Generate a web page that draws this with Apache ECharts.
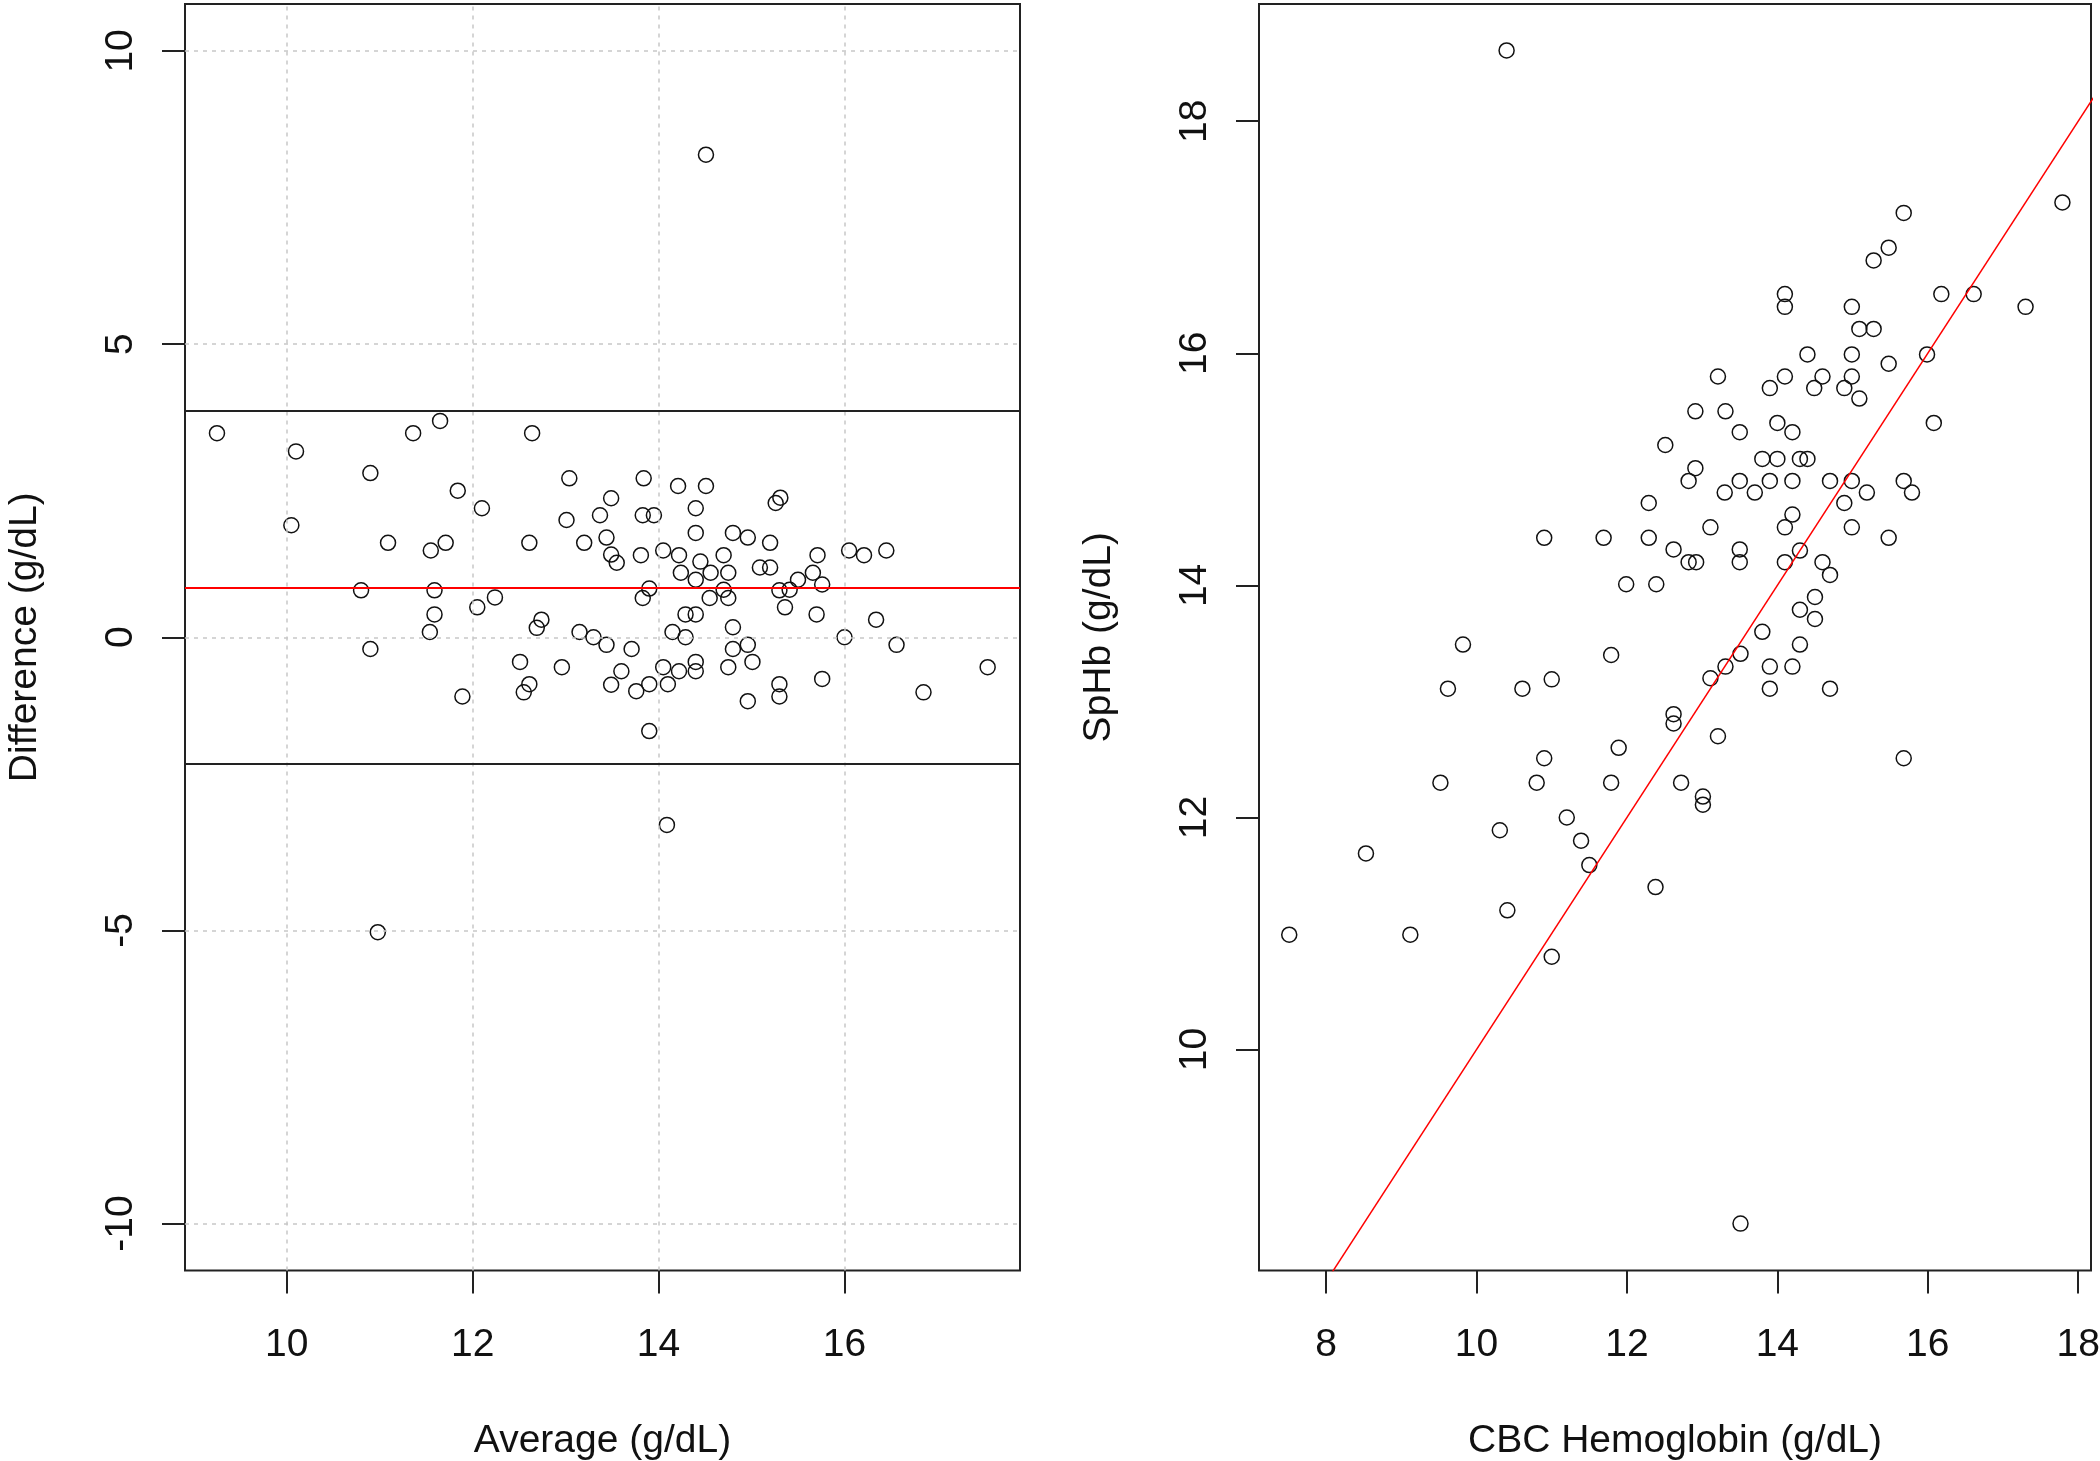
<!DOCTYPE html>
<html>
<head>
<meta charset="utf-8">
<script src="https://cdn.jsdelivr.net/npm/echarts@6/dist/echarts.min.js"></script>
<style>
html,body{margin:0;padding:0;background:#ffffff;}
#chart{width:2100px;height:1461px;}
</style>
</head>
<body>
<div id="chart"></div>
<script>
// ---------- Left panel: Bland-Altman (Average vs Difference) ----------
const baPoints = [
  [9.25,3.48],[10.10,3.17],[10.90,2.80],[11.36,3.48],[11.65,3.69],[12.64,3.48],[13.04,2.71],[11.84,2.50],
  [12.10,2.20],[10.05,1.91],[11.09,1.61],[11.55,1.48],[11.71,1.61],[12.61,1.61],[13.01,2.00],[13.20,1.61],
  [13.37,2.08],[10.80,0.80],[11.59,0.80],[11.59,0.39],[11.54,0.09],[12.05,0.51],[12.24,0.68],[12.74,0.30],
  [12.69,0.16],[13.15,0.09],[13.30,0.00],[10.90,-0.20],[12.51,-0.42],[12.96,-0.51],[12.61,-0.80],[12.55,-0.94],
  [11.89,-1.01],
  [13.49,2.37],[13.44,1.70],[13.49,1.41],[13.55,1.27],[13.84,2.71],[13.83,2.08],[13.95,2.08],[14.21,2.58],
  [14.51,2.58],[14.40,2.20],[14.40,1.78],[13.81,1.40],[14.05,1.48],[14.22,1.40],[14.24,1.10],[14.45,1.29],
  [14.40,0.98],[14.56,1.10],[14.70,1.40],[14.75,1.10],[14.80,1.78],[14.96,1.70],[15.20,1.61],[15.26,2.29],
  [15.31,2.38],
  [15.09,1.19],[15.20,1.19],[15.71,1.40],[15.66,1.10],[15.50,0.98],[15.76,0.90],[15.30,0.80],[15.41,0.81],
  [15.36,0.51],[15.70,0.39],[16.05,1.48],[16.21,1.40],[16.45,1.48],[16.34,0.30],[16.00,0.00],[16.56,-0.13],
  [17.54,-0.51],[16.85,-0.94],[13.90,0.83],[13.83,0.67],[14.55,0.67],[14.75,0.67],[14.70,0.81],[14.29,0.39],
  [14.40,0.39],
  [14.80,0.17],[14.15,0.09],[14.29,0.00],[13.44,-0.13],[13.71,-0.20],[14.80,-0.20],[14.96,-0.13],[15.01,-0.42],
  [14.75,-0.51],[14.40,-0.42],[14.40,-0.58],[14.05,-0.51],[14.22,-0.58],[13.60,-0.58],[13.49,-0.81],[13.90,-0.80],
  [13.76,-0.92],[14.10,-0.80],[15.30,-0.80],[15.30,-1.01],[14.96,-1.09],[15.76,-0.71],[13.90,-1.60],
  [14.51,8.23],[14.09,-3.20],[10.98,-5.03]
];
const meanDifference = [0.85];
const agreementLimits = [3.86, -2.15];
const baXTicks = [10, 12, 14, 16];
const baYTicks = [-10, -5, 0, 5, 10];
const baXRange = [8.906, 17.888];
const baYRange = [-10.8, 10.8];

// ---------- Right panel: CBC Hemoglobin vs SpHb ----------
const corrPoints = [
  [17.79,17.30],[15.68,17.21],[15.48,16.91],[15.28,16.80],[14.10,16.51],[14.10,16.40],[14.99,16.40],[16.18,16.51],
  [16.61,16.51],[17.30,16.40],[15.09,16.21],[15.28,16.21],[14.40,15.99],[14.99,15.99],[15.48,15.91],[15.99,15.99],
  [13.21,15.80],[14.10,15.80],[14.60,15.80],[14.49,15.70],[14.99,15.80],[13.90,15.70],[14.89,15.70],[15.09,15.61],
  [13.31,15.50],[13.50,15.32],[14.00,15.40],[14.20,15.32],[16.08,15.40],[13.80,15.09],[14.00,15.09],[14.30,15.09],
  [14.40,15.09],[13.50,14.90],[13.30,14.80],[13.70,14.80],[13.90,14.90],[14.20,14.90],[14.70,14.90],[14.99,14.90],
  [15.19,14.80],[15.68,14.90],[15.79,14.80],[14.89,14.71],[14.20,14.61],[14.10,14.50],[13.11,14.50],[14.99,14.50],
  [15.48,14.41],
  [12.91,15.50],[12.51,15.21],[12.91,15.01],[12.82,14.90],[12.29,14.71],[10.90,14.41],[11.69,14.41],[12.29,14.41],
  [12.62,14.31],[12.82,14.20],[12.92,14.20],[11.99,14.01],[12.39,14.01],
  [9.82,13.49],[11.79,13.40],[9.62,13.11],[10.61,13.11],[11.00,13.19],[12.62,12.89],[12.62,12.81],[11.89,12.60],
  [10.90,12.51],[9.52,12.30],[10.80,12.30],[11.79,12.30],[12.72,12.30],[13.01,12.18],[13.01,12.11],[11.20,12.00],
  [10.31,11.89],[11.39,11.80],[11.50,11.59],[8.53,11.69],[12.38,11.40],[10.41,11.20],[7.51,10.99],[9.12,10.99],
  [11.00,10.80],
  [13.50,14.31],[13.50,14.20],[14.30,14.30],[14.10,14.20],[14.60,14.20],[14.70,14.09],[14.50,13.90],[14.30,13.79],
  [14.50,13.71],[13.80,13.60],[14.30,13.49],[13.51,13.41],[13.31,13.30],[13.90,13.30],[14.20,13.30],[13.11,13.20],
  [13.90,13.11],[14.70,13.11],[13.21,12.70],[15.68,12.51],
  [10.40,18.61],[13.51,8.50]
];
const identityLine = [[7, 7], [19, 19]];
const corrXTicks = [8, 10, 12, 14, 16, 18];
const corrYTicks = [10, 12, 14, 16, 18];
const corrXRange = [7.108, 18.17];
const corrYRange = [8.096, 19.01];

// ---------- Styling ----------
const FONT = '"Liberation Sans", Arial, sans-serif';
const TEXT = '#111111';
const INK = '#222222';
const FS = 39;

function xAxisCfg(gridIndex, range, ticks, name) {
  return {
    type: 'value', gridIndex: gridIndex, min: range[0], max: range[1], position: 'bottom',
    name: name, nameLocation: 'middle', nameGap: 151,
    nameTextStyle: { fontFamily: FONT, fontSize: FS, color: TEXT },
    axisLine: { show: false, onZero: false },
    splitLine: { show: false },
    axisTick: { show: true, length: 23, inside: false, customValues: ticks, lineStyle: { color: INK, width: 2 } },
    axisLabel: { show: true, margin: 55, customValues: ticks, fontFamily: FONT, fontSize: FS, color: TEXT }
  };
}
function yAxisCfg(gridIndex, range, ticks, name) {
  return {
    type: 'value', gridIndex: gridIndex, min: range[0], max: range[1], position: 'left',
    name: name, nameLocation: 'middle', nameGap: 140, nameRotate: 90,
    nameTextStyle: { fontFamily: FONT, fontSize: FS, color: TEXT },
    axisLine: { show: false, onZero: false },
    splitLine: { show: false },
    axisTick: { show: true, length: 23, inside: false, customValues: ticks, lineStyle: { color: INK, width: 2 } },
    axisLabel: { show: true, margin: 44, rotate: 90, customValues: ticks, fontFamily: FONT, fontSize: FS, color: TEXT }
  };
}

const circleStyle = {
  type: 'scatter', symbol: 'circle', symbolSize: 15,
  itemStyle: { color: 'rgba(0,0,0,0)', borderColor: '#111111', borderWidth: 1.5, opacity: 1 },
  emphasis: { disabled: true }, z: 3
};

const gridBase = { top: 4, bottom: 190.5, show: true, borderColor: INK, borderWidth: 2,
  backgroundColor: 'rgba(0,0,0,0)', containLabel: false, outerBoundsMode: 'none' };

const option = {
  animation: false,
  backgroundColor: '#ffffff',
  grid: [
    Object.assign({ left: 185, right: 1080 }, gridBase),
    Object.assign({ left: 1259, right: 9 }, gridBase)
  ],
  xAxis: [
    xAxisCfg(0, baXRange, baXTicks, 'Average (g/dL)'),
    xAxisCfg(1, corrXRange, corrXTicks, 'CBC Hemoglobin (g/dL)')
  ],
  yAxis: [
    yAxisCfg(0, baYRange, baYTicks, 'Difference (g/dL)'),
    yAxisCfg(1, corrYRange, corrYTicks, 'SpHb (g/dL)')
  ],
  series: [
    // dotted reference grid (left panel only)
    {
      type: 'scatter', xAxisIndex: 0, yAxisIndex: 0, data: [], silent: true, z: 1,
      markLine: {
        silent: true, symbol: ['none', 'none'], label: { show: false }, animation: false,
        lineStyle: { color: '#c8c8c8', type: [4, 5], width: 1.5 },
        emphasis: { disabled: true },
        data: baXTicks.map(v => ({ xAxis: v })).concat(baYTicks.map(v => ({ yAxis: v })))
      }
    },
    Object.assign({}, circleStyle, { xAxisIndex: 0, yAxisIndex: 0, data: baPoints }),
    // limits of agreement and mean difference
    {
      type: 'scatter', xAxisIndex: 0, yAxisIndex: 0, data: [], silent: true, z: 4,
      markLine: {
        silent: true, symbol: ['none', 'none'], label: { show: false }, animation: false,
        emphasis: { disabled: true },
        data: agreementLimits.map(v => ({ yAxis: v, lineStyle: { color: INK, width: 2, type: 'solid' } }))
          .concat(meanDifference.map(v => ({ yAxis: v, lineStyle: { color: '#ff0000', width: 2, type: 'solid' } })))
      }
    },
    Object.assign({}, circleStyle, { xAxisIndex: 1, yAxisIndex: 1, data: corrPoints }),
    {
      type: 'line', xAxisIndex: 1, yAxisIndex: 1, data: identityLine, clip: true,
      symbol: 'none', showSymbol: false, silent: true, z: 4,
      lineStyle: { color: '#ff0000', width: 1.5 }
    }
  ]
};

const chart = echarts.init(document.getElementById('chart'), null, { renderer: 'canvas' });
chart.setOption(option);
</script>
</body>
</html>
